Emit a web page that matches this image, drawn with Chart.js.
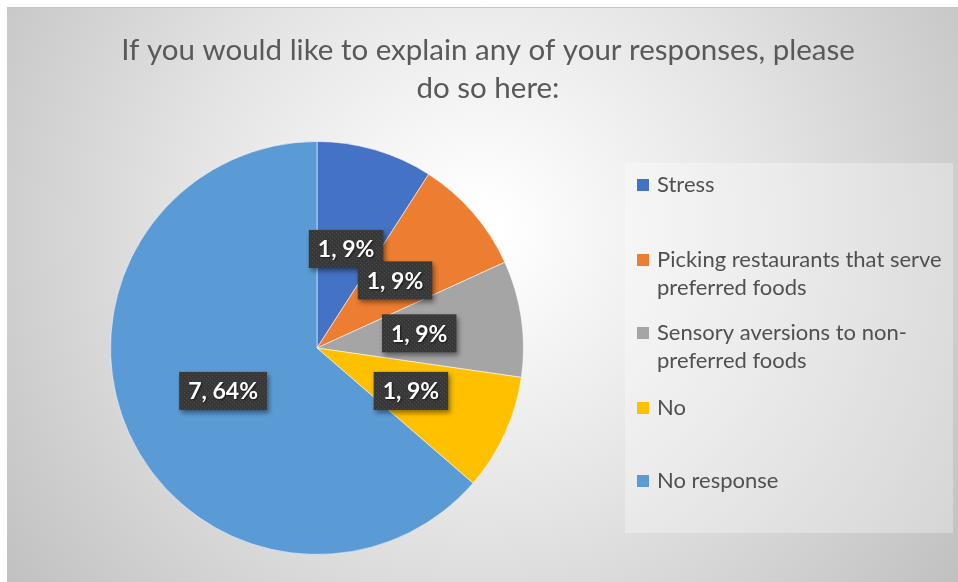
<!DOCTYPE html>
<html>
<head>
<meta charset="utf-8">
<script src="https://cdn.jsdelivr.net/npm/chart.js@4.4.1/dist/chart.umd.min.js"></script>
<style>
    html, body { margin: 0; padding: 0; background: #ffffff; }
    #wrap { width: 958px; height: 582px; position: relative; }
</style>
</head>
<body>
<div id="wrap"><canvas id="chart" width="958" height="582"></canvas></div>
<script>
const titleLines = ["If you would like to explain any of your responses, please", "do so here:"];
const categories = [
    "Stress",
    "Picking restaurants that serve preferred foods",
    "Sensory aversions to non-preferred foods",
    "No",
    "No response",
];
// legend text as it wraps inside the legend box
const legendLines = [
    ["Stress"],
    ["Picking restaurants that serve", "preferred foods"],
    ["Sensory aversions to non-", "preferred foods"],
    ["No"],
    ["No response"],
];
const counts = [1, 1, 1, 1, 7];
const sliceColors = ["#4472C4", "#ED7D31", "#A5A5A5", "#FFC000", "#5B9BD5"];

const FONT = "Lato, 'Open Sans', sans-serif";

// grey radial backdrop behind everything
const backdrop = {
    id: "backdrop",
    beforeDraw(chart) {
        const ctx = chart.ctx;
        ctx.save();
        const g = ctx.createRadialGradient(480, 230, 20, 480, 230, 620);
        g.addColorStop(0, "#ffffff");
        g.addColorStop(0.45, "#e4e4e4");
        g.addColorStop(1, "#bdbdbd");
        ctx.fillStyle = g;
        ctx.fillRect(7, 7, chart.width - 7, chart.height - 7);
        ctx.strokeStyle = "#c4c4c4";
        ctx.lineWidth = 1;
        ctx.beginPath();
        ctx.moveTo(7, 7.5);
        ctx.lineTo(chart.width, 7.5);
        ctx.stroke();
        ctx.restore();
    },
};

const titleBlock = {
    id: "titleBlock",
    afterDraw(chart) {
        const ctx = chart.ctx;
        ctx.save();
        ctx.fillStyle = "#595959";
        ctx.font = "29.5px " + FONT;
        ctx.textAlign = "center";
        ctx.textBaseline = "middle";
        titleLines.forEach((line, i) => ctx.fillText(line, 488, 50 + i * 38));
        ctx.restore();
    },
};

const sideLegend = {
    id: "sideLegend",
    afterDraw(chart) {
        const ctx = chart.ctx;
        const rowY = [185, 260, 333, 408, 481];
        ctx.save();
        ctx.fillStyle = "rgba(255,255,255,0.3)";
        ctx.fillRect(625, 163, 328, 370);
        ctx.font = "22px " + FONT;
        ctx.textBaseline = "middle";
        ctx.textAlign = "left";
        legendLines.forEach((lines, i) => {
            ctx.fillStyle = chart.data.datasets[0].backgroundColor[i];
            ctx.fillRect(637, rowY[i] - 6, 12, 12);
            ctx.fillStyle = "#505050";
            lines.forEach((t, j) => ctx.fillText(t, 657, rowY[i] + j * 28));
        });
        ctx.restore();
    },
};

function dottedFill(ctx) {
    const tile = document.createElement("canvas");
    tile.width = 4;
    tile.height = 4;
    const t = tile.getContext("2d");
    t.fillStyle = "#383838";
    t.fillRect(0, 0, 4, 4);
    t.fillStyle = "#4a4a4a";
    t.fillRect(0, 0, 1, 1);
    t.fillRect(2, 2, 1, 1);
    return ctx.createPattern(tile, "repeat");
}

// "count, percent" callouts on dark boxes
const sliceLabels = {
    id: "sliceLabels",
    afterDatasetsDraw(chart) {
        const ctx = chart.ctx;
        const data = chart.data.datasets[0].data;
        const total = data.reduce((a, b) => a + b, 0);
        const fill = dottedFill(ctx);
        ctx.save();
        ctx.font = "bold 23px " + FONT;
        ctx.textAlign = "center";
        ctx.textBaseline = "middle";
        chart.getDatasetMeta(0).data.forEach((arc, i) => {
            const p = arc.tooltipPosition();
            const text = data[i] + ", " + Math.round((data[i] / total) * 100) + "%";
            const w = ctx.measureText(text).width + 18;
            const h = 38;
            ctx.save();
            ctx.shadowColor = "rgba(0,0,0,0.45)";
            ctx.shadowBlur = 5;
            ctx.shadowOffsetX = 2;
            ctx.shadowOffsetY = 3;
            ctx.fillStyle = fill;
            ctx.fillRect(p.x - w / 2, p.y - h / 2, w, h);
            ctx.restore();
            ctx.save();
            ctx.shadowColor = "rgba(0,0,0,0.6)";
            ctx.shadowBlur = 2;
            ctx.shadowOffsetX = 1;
            ctx.shadowOffsetY = 1;
            ctx.fillStyle = "#ffffff";
            ctx.fillText(text, p.x, p.y + 1);
            ctx.restore();
        });
        ctx.restore();
    },
};

new Chart(document.getElementById("chart"), {
    type: "pie",
    data: {
        labels: categories,
        datasets: [{
            data: counts,
            backgroundColor: sliceColors,
            borderColor: "rgba(255,255,255,0.55)",
            borderWidth: 1,
        }],
    },
    options: {
        responsive: false,
        animation: false,
        devicePixelRatio: 1,
        layout: {
            padding: { left: 110, top: 141, right: 434, bottom: 27 },
        },
        plugins: {
            legend: { display: false },
            title: { display: false },
            tooltip: { enabled: false },
        },
    },
    plugins: [backdrop, titleBlock, sideLegend, sliceLabels],
});
</script>
</body>
</html>
